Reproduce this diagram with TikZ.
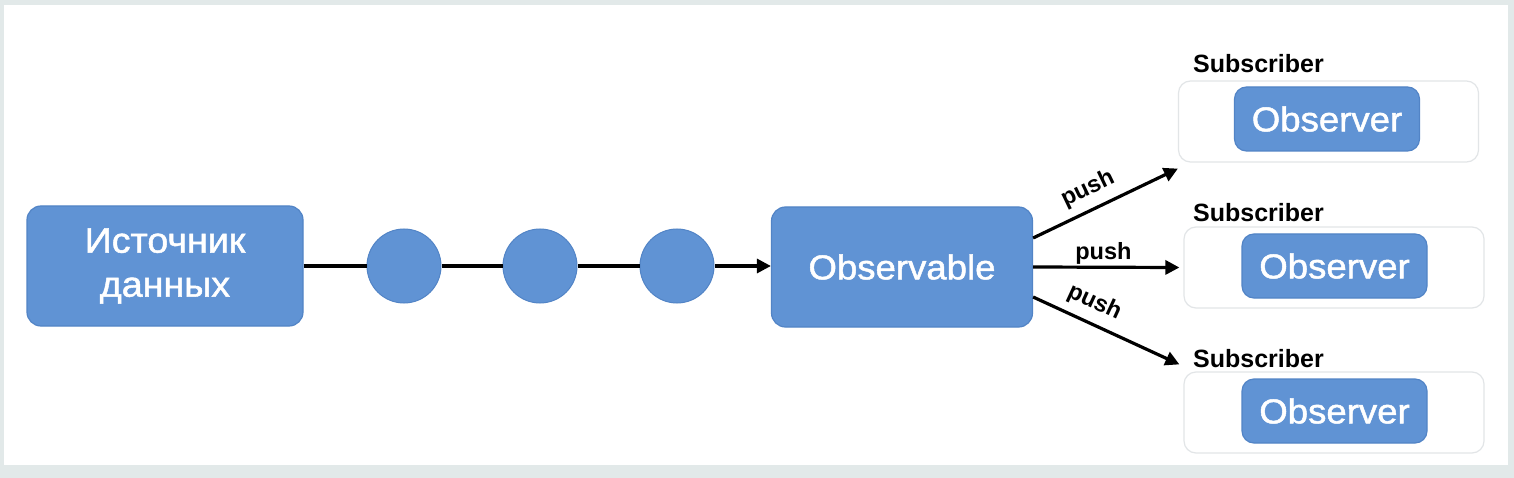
\documentclass[tikz,border=0pt]{standalone}
\usepackage{fontspec}
\setmainfont{Liberation Sans}
\newfontface\medfont{Liberation Sans}[FakeBold=1.4,FakeStretch=1.06]
\usetikzlibrary{arrows.meta}
\definecolor{boxblue}{RGB}{96,147,212}
\definecolor{boxedge}{RGB}{82,132,198}
\definecolor{framegray}{RGB}{226,233,233}
\definecolor{subedge}{RGB}{226,229,231}
\begin{document}
\begin{tikzpicture}[x=1pt,y=-1pt,
  bluebox/.style={draw=boxedge, line width=1.2pt, fill=boxblue, rounded corners=14pt, text=white, align=center, inner sep=0pt},
  dot/.style={circle, draw=boxedge, fill=boxblue, minimum size=74pt, inner sep=0pt, line width=1pt},
  subbox/.style={draw=subedge, line width=1.2pt, fill=white, rounded corners=12pt, minimum width=300pt, minimum height=81pt, inner sep=0pt},
  obsbox/.style={bluebox, rounded corners=12pt, minimum width=185pt, minimum height=64pt, font=\medfont\fontsize{34.5}{40}\selectfont},
  sublabel/.style={anchor=base west, font=\bfseries\fontsize{25}{30}\selectfont, inner sep=0pt},
  link/.style={line width=3.2pt, black},
  arrowlink/.style={link, -{Triangle[length=14pt,width=14pt]}},
  pushlbl/.style={font=\bfseries\fontsize{23.5}{28}\selectfont, inner sep=0pt, sloped}
]
\fill[framegray] (0,0) rectangle (1514,478);
\fill[white] (4,5) rectangle (1508,465);
\useasboundingbox (0,0) rectangle (1514,478);

% main chain
\node[bluebox, minimum width=276pt, minimum height=120pt, font=\medfont\fontsize{35.5}{44}\selectfont] (src) at (165,266) {Источник\\данных};
\node[dot] (c1) at (404,266) {};
\node[dot] (c2) at (540,266) {};
\node[dot] (c3) at (677,266) {};
\node[bluebox, minimum width=261pt, minimum height=120pt, font=\medfont\fontsize{34.5}{40}\selectfont] (obs) at (902,267) {Observable};

\draw[link] (src.east) -- (c1.west);
\draw[link] (c1.east) -- (c2.west);
\draw[link] (c2.east) -- (c3.west);
\draw[arrowlink] (c3.east) -- (obs.west |- c3.east);

% subscribers
\node[subbox] (sub1) at (1328.5,121.5) {};
\node[subbox] (sub2) at (1334,267.5) {};
\node[subbox] (sub3) at (1334,412.5) {};
\node[obsbox] (ob1) at (1327,119) {Observer};
\node[obsbox] (ob2) at (1334.5,266) {Observer};
\node[obsbox] (ob3) at (1334.5,411) {Observer};
\node[sublabel] (sl1) at (1193,73) {Subscriber};
\node[sublabel] (sl2) at (1193,222) {Subscriber};
\node[sublabel] (sl3) at (1193,367) {Subscriber};

% push arrows
\draw[arrowlink] ([yshift=29pt]obs.east) -- node[pushlbl, pos=0.44, above=8pt] {push} ([yshift=-6pt]sub1.south west);
\draw[arrowlink] (obs.east) -- node[pushlbl, pos=0.48, above=1pt] {push} ([xshift=-4pt]sub2.west);
\draw[arrowlink] ([yshift=-30pt]obs.east) -- node[pushlbl, pos=0.36, above=8pt] {push} ([shift={(-4pt,7pt)}]sub3.north west);
\end{tikzpicture}
\end{document}
